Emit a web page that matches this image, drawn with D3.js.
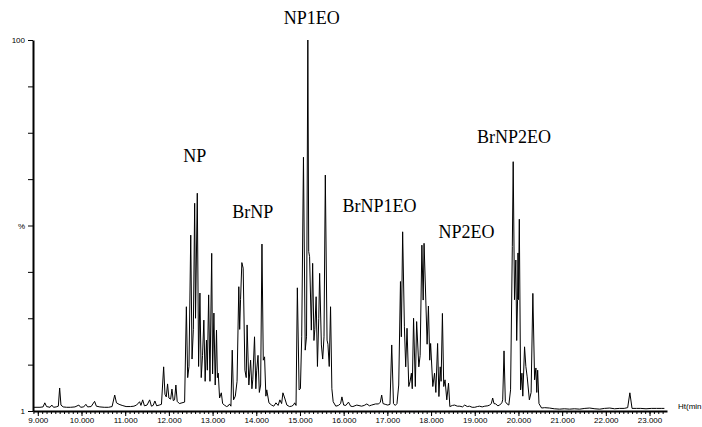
<!DOCTYPE html>
<html>
<head>
<meta charset="utf-8">
<script src="https://cdn.jsdelivr.net/npm/d3@7"></script>
<style>
  body { margin: 0; background: #fff; }
  svg { display: block; }
</style>
</head>
<body>
<div id="chart"></div>
<script>
// retention time (min) and relative abundance (%)
const rtMin = [
  8.89, 9.05, 9.12, 9.16, 9.20, 9.28, 9.32, 9.36, 9.42, 9.47, 9.50, 9.53, 9.58, 9.66, 9.75, 9.85, 9.94, 9.98,
  10.05, 10.10, 10.14, 10.22, 10.30, 10.34, 10.42, 10.52, 10.62, 10.70, 10.76, 10.80, 10.86, 10.93,
  11.02, 11.12, 11.20, 11.26, 11.33, 11.36, 11.40, 11.44, 11.50, 11.56, 11.60, 11.64, 11.68, 11.72, 11.78, 11.83,
  11.88, 11.91, 11.94, 11.97, 12.00, 12.04, 12.07, 12.10, 12.13, 12.16, 12.19, 12.24, 12.30, 12.36,
  12.40, 12.43, 12.46, 12.50, 12.53, 12.56, 12.59, 12.61, 12.65, 12.68, 12.71, 12.74, 12.77, 12.80, 12.83,
  12.86, 12.88, 12.91, 12.94, 12.98, 13.00, 13.03, 13.06, 13.09, 13.11, 13.13, 13.16, 13.20, 13.23,
  13.27, 13.32, 13.36, 13.39, 13.42,
  13.45, 13.48, 13.52, 13.56, 13.60, 13.62, 13.64, 13.67, 13.70, 13.74, 13.77, 13.79, 13.83, 13.87, 13.90,
  13.92, 13.96, 13.99, 14.01, 14.04, 14.07, 14.10, 14.13, 14.16, 14.19, 14.22, 14.24, 14.29, 14.35, 14.40,
  14.45, 14.50, 14.54, 14.58, 14.61, 14.65, 14.70, 14.76, 14.81, 14.85, 14.88, 14.91,
  14.94, 14.98, 15.01, 15.04, 15.08, 15.12, 15.15, 15.18, 15.20, 15.22, 15.26, 15.29, 15.32, 15.34, 15.37,
  15.40, 15.43, 15.45, 15.49, 15.52, 15.55, 15.58, 15.62, 15.64, 15.67, 15.70, 15.73, 15.76, 15.82, 15.88,
  15.93, 15.96, 16.00, 16.05, 16.11, 16.16, 16.21, 16.30, 16.41, 16.47, 16.53, 16.59, 16.64, 16.73, 16.80,
  16.84, 16.87, 16.90, 16.95, 17.01, 17.06,
  17.10, 17.14, 17.18, 17.22, 17.26, 17.30, 17.32, 17.35, 17.39, 17.42, 17.45, 17.49, 17.52, 17.55, 17.57,
  17.60, 17.64, 17.67, 17.72, 17.75, 17.79, 17.82, 17.84, 17.88, 17.91, 17.94, 17.97, 17.99, 18.04, 18.08,
  18.11, 18.15, 18.18, 18.21, 18.23, 18.26, 18.29, 18.32, 18.36, 18.40, 18.43,
  18.49, 18.54, 18.60, 18.66, 18.72, 18.77, 18.83, 18.88, 18.94, 19.00, 19.06, 19.11, 19.17, 19.23, 19.30,
  19.34, 19.38, 19.41, 19.44, 19.48, 19.53, 19.57, 19.62, 19.64,
  19.67, 19.70, 19.74, 19.78, 19.82, 19.86, 19.88, 19.91, 19.94, 19.96, 19.98, 19.99, 20.00, 20.02, 20.05,
  20.08, 20.10, 20.14, 20.17, 20.20, 20.25, 20.29, 20.33, 20.37, 20.40, 20.42, 20.44, 20.47, 20.53,
  20.60, 20.71, 20.82, 20.94, 21.05, 21.17, 21.28, 21.40, 21.52, 21.63, 21.75, 21.86, 21.97, 22.09, 22.20,
  22.31, 22.42, 22.50, 22.55, 22.60, 22.70, 22.80, 22.92, 23.04, 23.16, 23.28, 23.34
];
const abundance = [
  1.0, 1.0, 1.1, 2.2, 1.2, 1.0, 1.6, 1.0, 1.1, 1.3, 6.2, 1.6, 1.1, 1.0, 1.0, 1.1, 1.6, 1.0,
  1.1, 1.8, 1.1, 1.2, 2.6, 1.3, 1.1, 1.0, 1.0, 1.2, 4.3, 2.2, 1.8, 1.5,
  1.2, 1.2, 1.3, 1.6, 2.5, 1.5, 3.0, 1.4, 1.6, 3.0, 1.3, 1.5, 2.7, 1.4, 1.6, 1.8,
  11.9, 4.5, 3.8, 7.3, 3.5, 3.2, 5.9, 2.8, 3.0, 7.0, 2.6, 2.0, 2.2, 2.4,
  28.1, 9, 12, 47.4, 14, 22, 56, 25, 58.7, 12, 31.8, 9, 15, 24.5, 8,
  19.1, 11, 31.3, 8, 42.5, 10, 26.4, 7, 21.8, 9, 10.2, 3.5, 4.9, 2.0,
  1.6, 1.2, 1.4, 1.9, 1.3,
  16.4, 3, 4, 8, 33.5, 22, 30, 40, 38.5, 11, 9, 23.2, 7, 13.7, 6,
  8.4, 20, 6, 11, 15, 5, 7, 45, 13.7, 14.6, 4, 5.7, 2.2, 1.6, 1.3,
  2.2, 1.5, 3.0, 2.0, 4.9, 3.5, 1.6, 1.2, 1.3, 1.6, 2.2, 1.5,
  33.2, 5.7, 6, 20, 68.4, 16.4, 20, 100, 43, 41.6, 21.8, 39.8, 19, 22, 30.8,
  12, 25, 37.1, 17.8, 14, 20, 63.6, 19.1, 18, 12, 28.1, 6, 2.5, 1.3, 1.5,
  2.0, 3.8, 1.6, 1.5, 2.4, 1.3, 1.2, 1.6, 1.3, 1.5, 1.9, 1.4, 1.6, 1.9, 1.9,
  2.4, 4.3, 2.0, 1.8, 1.6, 1.8,
  17.8, 2, 1.5, 2, 7, 34.9, 20, 48.3, 22.7, 11.9, 22.3, 6.6, 8, 10.2, 6,
  25, 6.6, 24.1, 11.9, 15, 44.7, 29.9, 45.2, 29.9, 18, 28.3, 13.7, 18.2, 6.6, 10.2,
  5, 18.2, 3.9, 11.9, 8, 26.3, 6.6, 8.4, 3.0, 7.5, 1.2,
  1.5, 1.6, 1.3, 1.3, 1.1, 1.6, 1.2, 1.3, 1.0, 1.0, 1.2, 1.3, 1.1, 1.3, 1.4,
  1.6, 2.0, 3.5, 2.0, 1.9, 1.4, 1.6, 2.2, 3,
  16.2, 2.5, 1.9, 1.6, 5.7, 44.3, 67.2, 30, 40.7, 19, 30, 42.6, 30, 51.7, 5.7,
  10.2, 4, 17.3, 12, 9.2, 3.0, 5, 31.7, 8.4, 11.6, 5, 11.0, 2.0, 0.8,
  0.9, 0.8, 0.6, 0.5, 0.6, 0.5, 0.6, 0.5, 0.7, 0.8, 0.6, 0.5, 0.7, 0.8, 0.6,
  0.7, 0.7, 0.9, 4.9, 0.7, 0.7, 0.7, 0.6, 0.7, 0.7, 0.7, 0.7
];

// peak group names and where they sit (rt, %)
const peakNames = ["NP", "BrNP", "NP1EO", "BrNP1EO", "NP2EO", "BrNP2EO"];
const peakNameRt = [12.59, 13.92, 15.27, 16.82, 18.81, 19.90];
const peakNameAbund = [67.1, 52.0, 104.3, 53.6, 46.6, 72.2];

const xTicks = d3.range(9, 23.5, 1);
const yTicks = [0, 12.5, 25, 37.5, 50, 62.5, 75, 87.5, 100];
const yTickText = {0: "1", 50: "%", 100: "100"};

const width = 702, height = 427;

const svg = d3.select("#chart")
  .append("svg")
  .attr("width", width)
  .attr("height", height);

const x = d3.scaleLinear().domain([8.89, 23.40]).range([33, 667]);
const y = d3.scaleLinear().domain([0, 100]).range([411, 40]);

// minor ticks every 0.1 min
svg.append("g")
  .attr("transform", "translate(0,411)")
  .call(d3.axisBottom(x).tickValues(d3.range(8.9, 23.4, 0.1)).tickSize(3).tickSizeOuter(0).tickFormat(""))
  .call(g => g.select(".domain").remove())
  .call(g => g.selectAll("line").attr("stroke", "#000"));

// major ticks + labels
const xAxis = svg.append("g")
  .attr("transform", "translate(0,411)")
  .call(d3.axisBottom(x).tickValues(xTicks).tickSize(5).tickSizeOuter(0).tickFormat(d3.format(".3f")));
xAxis.select(".domain").attr("stroke-width", 2);
xAxis.selectAll("text")
  .attr("font-family", "Liberation Sans, Arial, sans-serif")
  .attr("font-size", "8px")
  .attr("dy", "0.5em")
  .attr("fill", "#000");

const yAxis = svg.append("g")
  .attr("transform", "translate(33,0)")
  .call(d3.axisLeft(y).tickValues(yTicks).tickSize(5).tickSizeOuter(0)
    .tickFormat(d => yTickText[d] || ""));
yAxis.select(".domain").attr("stroke-width", 2);
yAxis.selectAll("text")
  .attr("font-family", "Liberation Sans, Arial, sans-serif")
  .attr("font-size", "8px")
  .attr("fill", "#000");

svg.append("text")
  .attr("x", 678)
  .attr("y", 409)
  .attr("font-family", "Liberation Sans, Arial, sans-serif")
  .attr("font-size", "8px")
  .text("Ht(min");

// the trace
const line = d3.line()
  .x((d, i) => x(rtMin[i]))
  .y(d => y(d));

svg.append("path")
  .datum(abundance)
  .attr("d", line)
  .attr("fill", "none")
  .attr("stroke", "#000")
  .attr("stroke-width", 1)
  .attr("stroke-linejoin", "miter");

svg.selectAll(".peakname")
  .data(peakNames)
  .enter()
  .append("text")
    .attr("class", "peakname")
    .attr("x", (d, i) => x(peakNameRt[i]))
    .attr("y", (d, i) => y(peakNameAbund[i]))
    .attr("text-anchor", "middle")
    .attr("font-family", "Liberation Serif, Times New Roman, serif")
    .attr("font-size", "18px")
    .text(d => d);
</script>
</body>
</html>
